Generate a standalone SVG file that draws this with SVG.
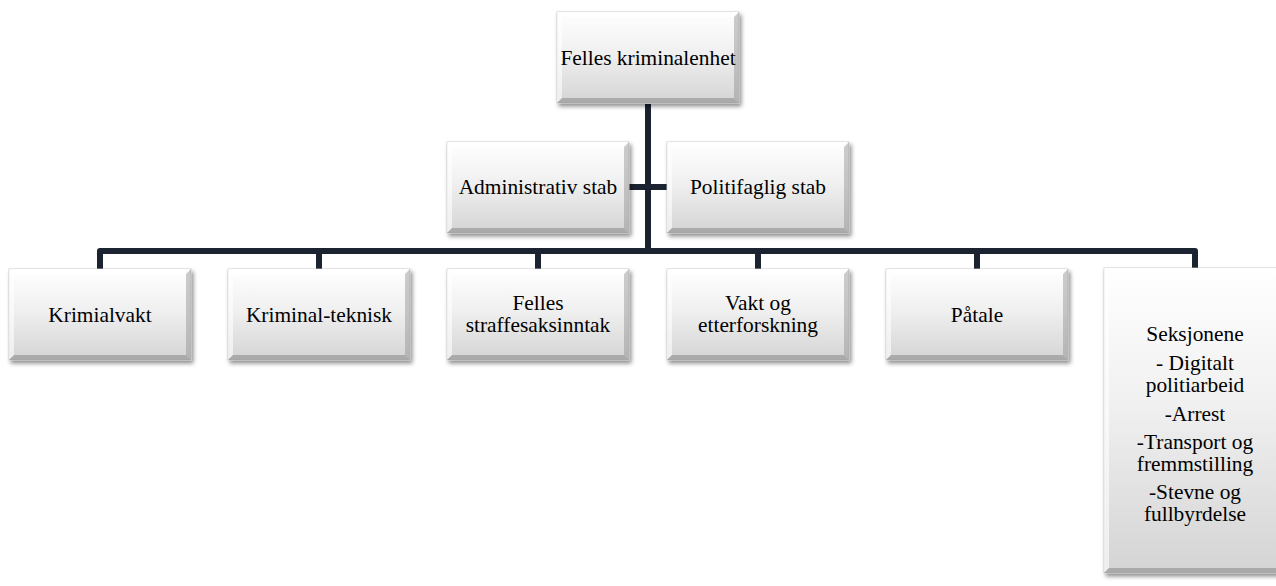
<svg xmlns="http://www.w3.org/2000/svg" xmlns:xlink="http://www.w3.org/1999/xlink" width="1276" height="586" viewBox="0 0 1276 586">
  <style>
    text { font-family: 'Liberation Serif', 'Times New Roman', Tinos, serif; font-size: 21.4px; fill: #000; text-anchor: middle; }
    .conn { fill: none; stroke: #1b2230; stroke-width: 6; stroke-linejoin: round; stroke-linecap: butt; }
  </style>
  <defs>
    <linearGradient id="boxGrad" x1="0" y1="0" x2="0" y2="1">
      <stop offset="0" stop-color="#ffffff"/>
      <stop offset="0.45" stop-color="#f0f0f0"/>
      <stop offset="1" stop-color="#d4d4d4"/>
    </linearGradient>
    <filter id="shadow" x="-10%" y="-10%" width="125%" height="130%">
      <feDropShadow dx="2" dy="3" stdDeviation="2.2" flood-color="#000" flood-opacity="0.45"/>
    </filter>
    <g id="box">
      <rect x="0" y="0" width="182" height="91" fill="url(#boxGrad)" stroke="#c4c4c4" stroke-width="0.8"/>
      <path d="M0,0 H182 L177,5 H5 Z" fill="#ffffff" opacity="0.9"/>
      <path d="M0,0 L5,5 V86 L0,91 Z" fill="#ffffff" opacity="0.6"/>
      <path d="M182,0 V91 L177,86 V5 Z" fill="#8f8f8f" opacity="0.45"/>
      <path d="M0,91 H182 L177,86 H5 Z" fill="#808080" opacity="0.5"/>
    </g>
  </defs>

  <rect x="0" y="0" width="1276" height="586" fill="#ffffff"/>

  <g id="connectors">
    <path class="conn" d="M648,104 V251"/>
    <path class="conn" d="M629,187 H667"/>
    <path class="conn" d="M100,269 V251 H1195 V268"/>
    <path class="conn" d="M319,251 V269"/>
    <path class="conn" d="M538,251 V269"/>
    <path class="conn" d="M758,251 V269"/>
    <path class="conn" d="M977,251 V269"/>
  </g>

  <g id="node-felles-kriminalenhet">
    <use xlink:href="#box" href="#box" transform="translate(557,12)" filter="url(#shadow)"/>
    <text x="648" y="65">Felles kriminalenhet</text>
  </g>

  <g id="node-administrativ-stab">
    <use xlink:href="#box" href="#box" transform="translate(447,142)" filter="url(#shadow)"/>
    <text x="538" y="194">Administrativ stab</text>
  </g>

  <g id="node-politifaglig-stab">
    <use xlink:href="#box" href="#box" transform="translate(667,142)" filter="url(#shadow)"/>
    <text x="758" y="194">Politifaglig stab</text>
  </g>

  <g id="node-krimialvakt">
    <use xlink:href="#box" href="#box" transform="translate(9,269)" filter="url(#shadow)"/>
    <text x="100" y="322">Krimialvakt</text>
  </g>

  <g id="node-kriminal-teknisk">
    <use xlink:href="#box" href="#box" transform="translate(228,269)" filter="url(#shadow)"/>
    <text x="319" y="322">Kriminal-teknisk</text>
  </g>

  <g id="node-felles-straffesaksinntak">
    <use xlink:href="#box" href="#box" transform="translate(447,269)" filter="url(#shadow)"/>
    <text x="538" y="310">Felles</text>
    <text x="538" y="332">straffesaksinntak</text>
  </g>

  <g id="node-vakt-og-etterforskning">
    <use xlink:href="#box" href="#box" transform="translate(667,269)" filter="url(#shadow)"/>
    <text x="758" y="310">Vakt og</text>
    <text x="758" y="332">etterforskning</text>
  </g>

  <g id="node-patale">
    <use xlink:href="#box" href="#box" transform="translate(886,269)" filter="url(#shadow)"/>
    <text x="977" y="322">Påtale</text>
  </g>

  <g id="node-seksjonene">
    <g transform="translate(1104,268)" filter="url(#shadow)">
      <rect x="0" y="0" width="182" height="305" fill="url(#boxGrad)" stroke="#c4c4c4" stroke-width="0.8"/>
      <path d="M0,0 H182 L177,5 H5 Z" fill="#ffffff" opacity="0.9"/>
      <path d="M0,0 L5,5 V300 L0,305 Z" fill="#ffffff" opacity="0.6"/>
      <path d="M182,0 V305 L177,300 V5 Z" fill="#8f8f8f" opacity="0.45"/>
      <path d="M0,305 H182 L177,300 H5 Z" fill="#808080" opacity="0.5"/>
    </g>
    <text x="1195" y="341">Seksjonene</text>
    <text x="1195" y="370">- Digitalt</text>
    <text x="1195" y="392">politiarbeid</text>
    <text x="1195" y="421">-Arrest</text>
    <text x="1195" y="449">-Transport og</text>
    <text x="1195" y="471">fremmstilling</text>
    <text x="1195" y="499">-Stevne og</text>
    <text x="1195" y="521">fullbyrdelse</text>
  </g>
</svg>
